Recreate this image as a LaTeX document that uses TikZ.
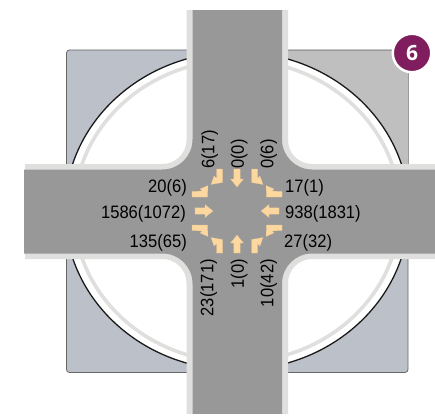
\documentclass[tikz,border=0pt]{standalone}
\usepackage{fontspec}
\setmainfont[FakeStretch=0.92]{Liberation Sans}
\newfontfamily\badgefont{Open Sans}
\definecolor{roadgray}{HTML}{989898}
\definecolor{curbgray}{HTML}{DFDFDD}
\definecolor{lotblue}{HTML}{BCC0C9}
\definecolor{lotgray}{HTML}{BFBFBF}
\definecolor{arrowtan}{HTML}{FDD7A0}
\definecolor{badgepurple}{HTML}{7F1D5E}
\tikzset{
  lbl/.style={inner sep=0pt,font=\fontsize{18}{18}\selectfont,text height=12.9pt,text depth=0pt,text=black},
  arrowfill/.style={fill=arrowtan,draw=arrowtan!90!black,line width=0.2pt},
}
% colour, left x, top y, right x, bottom y, radius
\newcommand{\plusshape}[6]{%
  \path[rounded corners=#6pt,fill=#1]
    (#2,-50) -- (#2,#3) -- (-50,#3) -- (-50,#5) -- (#2,#5) -- (#2,470) --
    (#4,470) -- (#4,#5) -- (520,#5) -- (520,#3) -- (#4,#3) -- (#4,-50) -- cycle;}
\newcommand{\turnpair}{%
  \path[arrowfill] (-20.5,-42) -- (-14.5,-42) -- (-14.5,-28.5) -- (-26,-26.5) -- (-23,-35) -- (-20.5,-33) -- cycle;
  \path[arrowfill] (-45,-19.5) -- (-35,-20) -- (-37,-22) -- (-29,-25.5) -- (-29.5,-14) -- (-45,-14) -- cycle;}
\newcommand{\straight}{%
  \path[arrowfill] (-3.2,-42) -- (3.2,-42) -- (3.2,-32) -- (6.5,-32) -- (0,-24) -- (-6.5,-32) -- (-3.2,-32) -- cycle;}
\begin{document}
\begin{tikzpicture}[x=1pt,y=-1pt]
\useasboundingbox (0,0) rectangle (435,417);
% lot
\filldraw[fill=lotblue,draw=black!60,line width=0.8pt,rounded corners=3pt] (66.5,50) rectangle (408,372.5);
\filldraw[fill=lotgray,draw=black!40,line width=0.8pt] (237,50) -- (408,50) -- (408,211) -- (237,211) -- cycle;
% circle
\filldraw[fill=white,draw=black!90,line width=1.3pt] (237,211) ellipse (172pt and 159pt);
\draw[curbgray,line width=3.6pt] (237,211) ellipse (163pt and 151pt);
% roads
\begin{scope}
  \clip (25,11) rectangle (435,413);
  \plusshape{curbgray}{186.5}{164}{288}{259}{24}
\end{scope}
\begin{scope}
  \clip (24,10.5) rectangle (435,413);
  \plusshape{roadgray}{192.5}{169.5}{282}{253.5}{30}
\end{scope}
% labels
\node[lbl,rotate=90,anchor=west] (n1) at (208,169) {6(17)};
\node[lbl,rotate=90,anchor=west] (n2) at (237.5,169) {0(0)};
\node[lbl,rotate=90,anchor=west] (n3) at (267,169) {0(6)};
\node[lbl,rotate=90,anchor=east] (s1) at (207,259) {23(171)};
\node[lbl,rotate=90,anchor=east] (s2) at (237.5,259) {1(0)};
\node[lbl,rotate=90,anchor=east] (s3) at (267,259) {10(42)};
\node[lbl,anchor=east] (w1) at (187,186) {20(6)};
\node[lbl,anchor=east] (w2) at (186,212) {1586(1072)};
\node[lbl,anchor=east] (w3) at (187,241) {135(65)};
\node[lbl,anchor=west] (e1) at (285,186) {17(1)};
\node[lbl,anchor=west] (e2) at (285,212) {938(1831)};
\node[lbl,anchor=west] (e3) at (284,241) {27(32)};
% arrows
\begin{scope}[shift={(237,211)}]\turnpair\straight\end{scope}
\begin{scope}[shift={(237,211)},xscale=-1]\turnpair\end{scope}
\begin{scope}[shift={(237,211)},yscale=-1]\turnpair\end{scope}
\begin{scope}[shift={(237,211)},xscale=-1,yscale=-1]\turnpair\end{scope}
\begin{scope}[shift={(237,211)},yscale=-1]\straight\end{scope}
\begin{scope}[shift={(237,211)},rotate=-90]\straight\end{scope}
\begin{scope}[shift={(237,211)},rotate=90]\straight\end{scope}
% badge
\node[circle,fill=badgepurple,draw=white,line width=2.5pt,minimum size=38.5pt,inner sep=0pt,text=white,font=\badgefont\bfseries\fontsize{21}{21}\selectfont] (badge) at (412,53) {6};
\end{tikzpicture}
\end{document}
